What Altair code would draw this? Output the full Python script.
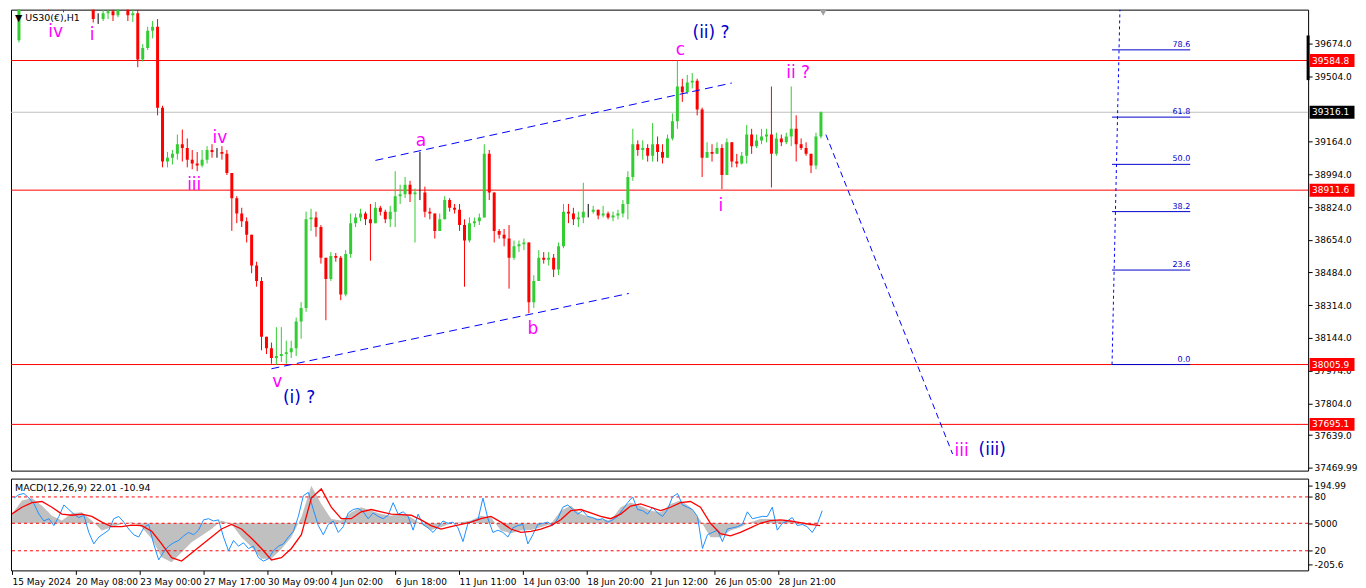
import altair as alt
import pandas as pd

W, H_MAIN, H_MACD = 1300, 462, 92
X_DOM = [-1, W - 1]
Y_DOM = [37455, 39849]
M_DOM = [-205.6, 194.99]
FONT = "DejaVu Sans"

# ---------------- price candles (5-hour buckets of the H1 chart) ----------------
candle_high = [
    39900, 39960, 40000, 40085, 40010, 39970, 39930, 39950, 39940, 39910,
    39950, 39990, 40000, 39980, 39930, 39880, 39830, 39850, 39860, 39880,
    39900, 39930, 39900, 39870, 39850, 39670, 39760, 39790, 39800, 39350,
    39110, 39120, 39200, 39226, 39180, 39120, 39110, 39120, 39140, 39150,
    39130, 39140, 39120, 39000, 38880, 38820, 38770, 38640, 38540, 38460,
    38150, 38120, 38200, 38200, 38130, 38130, 38250, 38330, 38800, 38815,
    38800, 38730, 38560, 38590, 38585, 38570, 38600, 38790, 38790, 38815,
    38800, 38840, 38850, 38830, 38810, 38830, 39010, 38940, 38980, 38960,
    38920, 39110, 38930, 38820, 38790, 38790, 38880, 38870, 38840, 38840,
    38760, 38770, 38770, 38790, 39150, 39120, 38900, 38710, 38710, 38730,
    38650, 38650, 38660, 38640, 38470, 38600, 38590, 38590, 38580, 38640,
    38840, 38840, 38820, 38800, 38950, 38840, 38830, 38810, 38830, 38800,
    38800, 38810, 38860, 39010, 39230, 39170, 39170, 39150, 39260, 39190,
    39150, 39200, 39310, 39585, 39490, 39510, 39520, 39490, 39340, 39160,
    39150, 39160, 39150, 39180, 39160, 39100, 39110, 39250, 39230, 39200,
    39230, 39230, 39450, 39210, 39200, 39210, 39450, 39300, 39180, 39160,
    39100, 39210, 39320,
]
candle_low = [
    39679, 39870, 39910, 39950, 39930, 39880, 39845, 39870, 39850, 39835,
    39860, 39900, 39920, 39890, 39850, 39782, 39775, 39790, 39800, 39790,
    39810, 39860, 39790, 39785, 39550, 39580, 39640, 39700, 39300, 39030,
    39030, 39045, 39070, 39060, 39030, 39020, 39010, 39030, 39050, 39080,
    39080, 39070, 38990, 38700, 38740, 38720, 38640, 38480, 38410, 38080,
    38060, 38010, 38005, 38020, 38010, 38040, 38050, 38140, 38280, 38700,
    38670, 38530, 38236, 38440, 38540, 38340, 38360, 38560, 38720, 38750,
    38730, 38545, 38740, 38780, 38740, 38720, 38720, 38840, 38870, 38850,
    38640, 38860, 38770, 38760, 38660, 38700, 38770, 38800, 38790, 38700,
    38410, 38640, 38720, 38730, 38770, 38860, 38640, 38660, 38620, 38400,
    38550, 38590, 38600, 38272, 38300, 38440, 38530, 38520, 38460, 38470,
    38610, 38740, 38730, 38720, 38740, 38770, 38790, 38760, 38770, 38760,
    38750, 38760, 38770, 38760, 38960, 39090, 39070, 39060, 39060, 39060,
    39050, 39080, 39170, 39230, 39370, 39410, 39440, 39300, 38980, 39080,
    39060, 39100, 38917, 38990, 39030, 39030, 39045, 39050, 39100, 39130,
    39150, 39160, 38925, 39090, 39140, 39150, 39140, 39060, 39120, 39090,
    39000, 39020, 39180,
]
candle_close = [
    39880, 39940, 39980, 39990, 39950, 39900, 39890, 39920, 39880, 39870,
    39930, 39960, 39950, 39910, 39870, 39800, 39800, 39830, 39840, 39820,
    39870, 39900, 39820, 39830, 39590, 39650, 39740, 39760, 39340, 39060,
    39080, 39100, 39150, 39130, 39070, 39050, 39040, 39070, 39120, 39110,
    39110, 39100, 39000, 38870, 38790, 38750, 38680, 38520, 38440, 38150,
    38090, 38040, 38050, 38060, 38070, 38090, 38230, 38300, 38760, 38770,
    38720, 38560, 38450, 38570, 38560, 38370, 38580, 38740, 38770, 38790,
    38760, 38740, 38820, 38800, 38760, 38800, 38880, 38890, 38940, 38890,
    38900, 38900, 38800, 38790, 38700, 38760, 38860, 38820, 38810, 38730,
    38650, 38740, 38750, 38770, 39100, 38900, 38700, 38680, 38660, 38560,
    38620, 38630, 38640, 38330, 38440, 38560, 38550, 38560, 38500, 38620,
    38800, 38790, 38760, 38770, 38800, 38800, 38810, 38780, 38790, 38770,
    38780, 38790, 38840, 38980, 39150, 39120, 39130, 39090, 39150, 39110,
    39080, 39180, 39270, 39450, 39420, 39470, 39480, 39330, 39080, 39110,
    39100, 39130, 38990, 39160, 39060, 39050, 39090, 39200, 39140, 39170,
    39190, 39200, 39100, 39180, 39160, 39190, 39230, 39150, 39130, 39100,
    39040, 39190, 39316,
]
first_open = 39690
STEP = 5

# ---------------- axis texts ----------------
price_ticks = [39674, 39504, 39164, 38994, 38824, 38654, 38484, 38314,
               38144, 37974, 37804, 37639, 37469.99]
time_ticks = [0, 64, 128, 192, 256, 320, 384, 448, 512, 576, 640, 704, 768]
time_labels = ["15 May 2024", "20 May 08:00", "23 May 00:00", "27 May 17:00",
               "30 May 09:00", "4 Jun 02:00", "6 Jun 18:00", "11 Jun 11:00",
               "14 Jun 03:00", "18 Jun 20:00", "21 Jun 12:00", "26 Jun 05:00",
               "28 Jun 21:00"]

# ---------------- horizontal levels ----------------
hline_prices = [39584.8, 38911.6, 38005.9, 37695.1]
bid_price = 39316.1

# ---------------- fibonacci tool ----------------
fib_names = ["0.0", "23.6", "38.2", "50.0", "61.8", "78.6"]
fib_prices = [38005.9, 38496.6, 38800.1, 39045.5, 39290.8, 39640.1]
fib_t_start, fib_t_end = 1106, 1185
fib_stem_t = [1106, 1115]
fib_stem_p = [38005.9, 40085.0]

# ---------------- trend lines ----------------
channel_seg = ["upper", "upper", "lower", "lower"]
channel_t = [362, 722, 257, 618]
channel_p = [39066, 39468, 37984, 38375]
proj_t = [817, 945]
proj_p = [39200, 37541]

# ---------------- wave labels ----------------
wave_text = ["iv", "i", "iii", "iv", "v", "(i) ?", "a", "b", "c", "(ii) ?",
             "ii ?", "i", "iii", "(iii)"]
wave_t = [39, 76, 179, 205, 263, 285, 408, 521, 670, 701, 789, 711, 954, 985]
wave_p = [39731, 39715, 38937, 39184, 37917, 37834, 39169, 38190, 39638,
          39726, 39519, 38829, 37556, 37561]
wave_col = ["m", "m", "m", "m", "m", "b", "m", "m", "m", "b", "m", "m", "m", "b"]

# ---------------- MACD ----------------
macd_hist = [41, 99, 110, 77, 33, 12, 44, 48, 12, -32, -17, -3, 4, -17, -68,
             -148, -170, -126, -83, -54, -25, 12, -3, -61, -104, -155, -155,
             -112, -61, 26, 164, 84, 19, 12, 48, 70, 55, 41, 33, 44, 26, -3,
             -29, -17, 0, 4, 12, 33, 26, -32, -44, -32, -29, -17, -3, 55, 77,
             41, 26, 19, 12, 70, 91, 77, 55, 48, 84, 99, 70, 12, -61, -61, -32,
             -17, 4, 19, 19, 12, 9, -3, -10, 0]
macd_signal = [41, 70, 90, 95, 70, 40, 35, 40, 30, 5, -15, -15, -8, -10, -35,
               -90, -150, -165, -130, -95, -60, -25, -5, -25, -65, -110, -160,
               -150, -110, -50, 110, 150, 70, 20, 20, 50, 60, 50, 40, 38, 35,
               15, -10, -25, -15, -5, 5, 20, 30, 5, -25, -40, -35, -25, -10, 15,
               55, 60, 45, 30, 20, 40, 75, 85, 70, 55, 70, 90, 95, 70, 0, -45,
               -55, -40, -20, 0, 12, 15, 10, 3, -5, -10]
macd_blue = [110, 125, 130, 110, 85, 40, 10, 20, -10, 30,
             80, 60, 40, 25, 35, -40, -90, -60, -45, -30,
             20, 30, 5, -25, -50, -60, -20, -5, -90, -160,
             -125, -100, -85, -75, -55, -40, -50, -30, 15, 20,
             10, 15, -60, -120, -75, -100, -85, -110, -100, -150,
             -165, -155, -120, -100, -90, -60, -35, 30, 120, 135,
             60, -10, -50, -5, 10, -40, -15, 45, 60, 65,
             50, 20, 45, 30, 20, 35, 90, 40, 50, 30,
             -30, 40, -5, -20, -40, -15, 10, 0, 5, -20,
             -80, 0, 10, 15, 110, 20, -40, -30, -40, -60,
             -20, -10, -5, -90, -50, -5, 0, 5, -10, 20,
             70, 80, 60, 40, 55, 30, 25, 15, 20, 5,
             15, 30, 60, 90, 115, 60, 55, 40, 70, 45,
             30, 60, 115, 130, 80, 70, 60, 30, -110, -50,
             -40, -30, -80, -25, -20, -15, -5, 50, 20, 25,
             30, 30, 70, -30, 0, 10, 25, -10, -5, -15,
             -40, -5, 55]
macd_levels = [115, 0, -120]
macd_tick_vals = [165, 115, 0, -120, -178]
macd_tick_text = ["194.99", "80", "5000", "20", "-205.6"]

# ================= tables =================
opens = [first_open] + candle_close[:-1]
rows = []
for k, (h, l, c, o) in enumerate(zip(candle_high, candle_low, candle_close, opens)):
    rows.append(dict(t=k * STEP + 2, open=o, close=c,
                     high=max(h, o, c), low=min(l, o, c),
                     dir="up" if c > o else ("down" if c < o else "flat")))
candles = pd.DataFrame(rows)

hlines = pd.DataFrame({"p": hline_prices})
boxes = pd.DataFrame({"p": hline_prices + [bid_price],
                      "txt": [f"{v:.1f}" for v in hline_prices + [bid_price]],
                      "bg": ["#FF0000"] * len(hline_prices) + ["#000000"]})
fib = pd.DataFrame({"p": fib_prices, "name": fib_names,
                    "t": [fib_t_start] * len(fib_prices),
                    "t2": [fib_t_end] * len(fib_prices)})
fib_stem = pd.DataFrame({"t": fib_stem_t, "p": fib_stem_p})
chan = pd.DataFrame({"seg": channel_seg, "t": channel_t, "p": channel_p})
proj = pd.DataFrame({"t": proj_t, "p": proj_p})
waves = pd.DataFrame({"t": wave_t, "p": wave_p, "txt": wave_text,
                      "col": ["#FF00FF" if c == "m" else "#0000CC" for c in wave_col]})

hist_df = pd.DataFrame({"t": [10 * j for j in range(len(macd_hist))],
                        "v": macd_hist, "s": macd_signal})
blue_df = pd.DataFrame({"t": [STEP * k + 2 for k in range(len(macd_blue))],
                        "v": macd_blue})
lvl_df = pd.DataFrame({"v": macd_levels})

# ================= scales / axes =================
xs = alt.Scale(domain=X_DOM, nice=False, zero=False)
ys = alt.Scale(domain=Y_DOM, nice=False, zero=False)
ms = alt.Scale(domain=M_DOM, nice=False, zero=False)

price_axis = alt.Axis(orient="right", values=price_ticks, grid=False,
                      labelExpr="datum.value == 37469.99 ? '37469.99' : format(datum.value, '.1f')",
                      tickSize=4, tickColor="black", domain=False, labelFont=FONT,
                      labelFontSize=9, labelColor="black", labelPadding=2,
                      labelOverlap=False, title=None)
time_expr = "[" + ",".join(f"'{s}'" for s in time_labels) + "][round(datum.value/64)]"
time_axis = alt.Axis(orient="bottom", values=time_ticks, labelExpr=time_expr,
                     grid=False, tickSize=4, tickColor="black", domain=False,
                     labelAlign="left", labelFont=FONT, labelFontSize=9,
                     labelColor="black", labelPadding=3, labelOverlap=False,
                     title=None)
macd_expr = ("datum.value == 165 ? '194.99' : datum.value == 115 ? '80' : "
             "datum.value == 0 ? '5000' : datum.value == -120 ? '20' : '-205.6'")
macd_axis = alt.Axis(orient="right", values=macd_tick_vals, labelExpr=macd_expr,
                     grid=False, tickSize=4, tickColor="black", domain=False,
                     labelFont=FONT, labelFontSize=9, labelColor="black",
                     labelPadding=2, labelOverlap=False, title=None)


def X(f="t"):
    return alt.X(f"{f}:Q", scale=xs, axis=None)


def Y(f="p"):
    return alt.Y(f"{f}:Q", scale=ys, axis=price_axis)


color_dir = alt.Color("dir:N", scale=alt.Scale(domain=["up", "down", "flat"],
                                                range=["#32CD32", "#FF0000", "#000000"]),
                      legend=None)

# ================= main pane =================
l_hl = alt.Chart(hlines).mark_rule(color="#FF0000", strokeWidth=1).encode(y=Y())
l_bid = alt.Chart(pd.DataFrame({"p": [bid_price]})).mark_rule(
    color="#C0C0C0", strokeWidth=1).encode(y=Y())
l_wick = alt.Chart(candles).mark_rule(clip=True, strokeWidth=1).encode(
    x=X(), y=Y("low"), y2="high:Q", color=color_dir)
l_body = alt.Chart(candles).mark_bar(clip=True, size=3).encode(
    x=X(), y=Y("open"), y2="close:Q", color=color_dir)
l_chan = alt.Chart(chan).mark_line(clip=True, color="#0000FF", strokeWidth=1,
                                   strokeDash=[8, 5]).encode(x=X(), y=Y(), detail="seg:N")
l_proj = alt.Chart(proj).mark_line(clip=True, color="#0000FF", strokeWidth=1,
                                   strokeDash=[6, 4]).encode(x=X(), y=Y())
l_stem = alt.Chart(fib_stem).mark_line(clip=True, color="#0000FF", strokeWidth=1,
                                       strokeDash=[3, 3]).encode(x=X(), y=Y())
l_fib = alt.Chart(fib).mark_rule(color="#0000CC", strokeWidth=1).encode(
    x=X(), x2="t2:Q", y=Y())
l_fibt = alt.Chart(fib).mark_text(align="right", baseline="bottom", dy=-1,
                                  font=FONT, fontSize=8, color="#0000CC").encode(
    x=X("t2"), y=Y(), text="name:N")
l_wave = alt.Chart(waves).mark_text(font=FONT, fontSize=17, baseline="middle",
                                    align="center").encode(
    x=X(), y=Y(), text="txt:N", color=alt.Color("col:N", scale=None))
l_title = alt.Chart(pd.DataFrame({"s": ["\u25BC US30(\u20AC),H1"]})).mark_text(
    align="left", baseline="middle", font=FONT, fontSize=9.5, color="black").encode(
    x=alt.value(4), y=alt.value(8), text="s:N")
l_marker = alt.Chart(pd.DataFrame({"s": [1]})).mark_point(
    shape="triangle-down", filled=True, color="#A0A0A0", size=50, opacity=1).encode(
    x=alt.value(814), y=alt.value(3))
l_range = alt.Chart(pd.DataFrame({"p": [39715], "p2": [39483]})).mark_rule(
    color="black", strokeWidth=3).encode(x=alt.value(W), y=Y(), y2="p2:Q")
l_box = alt.Chart(boxes).mark_tick(orient="horizontal", thickness=13, size=45,
                                   opacity=1).encode(
    x=alt.value(W + 24), y=Y(), color=alt.Color("bg:N", scale=None))
l_boxt = alt.Chart(boxes).mark_text(align="left", baseline="middle", font=FONT,
                                    fontSize=9, color="white").encode(
    x=alt.value(W + 4), y=Y(), text="txt:N")

main = alt.layer(l_hl, l_bid, l_wick, l_body, l_chan, l_proj, l_stem, l_fib,
                 l_fibt, l_wave, l_title, l_marker, l_range, l_box, l_boxt).properties(
    width=W, height=H_MAIN)

# ================= MACD pane =================
def MX(f="t"):
    return alt.X(f"{f}:Q", scale=xs, axis=time_axis)


def MY(f="v"):
    return alt.Y(f"{f}:Q", scale=ms, axis=macd_axis)


m_hist = alt.Chart(hist_df).mark_area(color="#C0C0C0", opacity=1).encode(
    x=MX(), y=MY(), y2=alt.datum(0))
m_lvl = alt.Chart(lvl_df).mark_rule(color="#FF0000", strokeDash=[3, 3],
                                    strokeWidth=1).encode(y=MY())
m_blue = alt.Chart(blue_df).mark_line(color="#1E90FF", strokeWidth=1).encode(
    x=MX(), y=MY())
m_sig = alt.Chart(hist_df).mark_line(color="#FF0000", strokeWidth=1.3).encode(
    x=MX(), y=MY("s"))
m_title = alt.Chart(pd.DataFrame({"s": ["MACD(12,26,9) 22.01 -10.94"]})).mark_text(
    align="left", baseline="middle", font=FONT, fontSize=9.5, color="black").encode(
    x=alt.value(4), y=alt.value(9), text="s:N")

macd = alt.layer(m_hist, m_lvl, m_blue, m_sig, m_title).properties(
    width=W, height=H_MACD)

chart = alt.vconcat(main, macd, spacing=4).properties(
    padding={"left": 0, "top": 0, "right": 0, "bottom": 0},
    background="white",
).configure_view(stroke="black", strokeWidth=1)

chart.save("out.html", embed_options={"renderer": "svg", "actions": False})
